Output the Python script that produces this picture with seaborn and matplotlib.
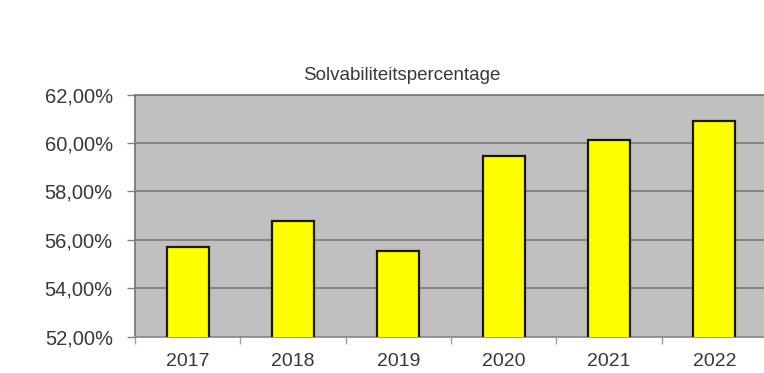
import matplotlib
matplotlib.use("Agg")
import matplotlib.pyplot as plt
from matplotlib.ticker import FuncFormatter, FixedLocator
import seaborn as sns
import pandas as pd

# Solvency ratio per year (percent)
years = ["2017", "2018", "2019", "2020", "2021", "2022"]
solvency = [55.72, 56.76, 55.55, 59.45, 60.14, 60.92]
y_ticks = [52, 54, 56, 58, 60, 62]
title = "Solvabiliteitspercentage"

df = pd.DataFrame({"jaar": years, "solvabiliteit": solvency})

sns.set_theme(style="white")
plt.rcParams["font.family"] = ["Liberation Sans", "DejaVu Sans"]

text_color = "#383838"
fig = plt.figure(figsize=(7.64, 3.73), dpi=100)
ax = fig.add_axes([135 / 764, 36.3 / 373, 632 / 764, 242.2 / 373])
ax.set_facecolor("#c0c0c0")

sns.barplot(data=df, x="jaar", y="solvabiliteit", ax=ax, color="#ffff00",
            saturation=1, width=0.4, edgecolor="#1a1a00", linewidth=1.6,
            zorder=3)

ax.set_ylim(52, 62)
ax.set_xlim(-0.5, len(years) - 0.5)
ax.yaxis.set_major_locator(FixedLocator(y_ticks))
ax.yaxis.set_major_formatter(
    FuncFormatter(lambda v, _: f"{v:.2f}".replace(".", ",") + "%"))
ax.grid(axis="y", color="#7a7a7a", linewidth=1.2, zorder=1)
ax.set_axisbelow(True)

# category boundaries get the tick marks, labels sit in the middle
ax.xaxis.set_minor_locator(FixedLocator([i + 0.5 for i in range(-1, len(years))]))
ax.tick_params(axis="x", which="major", length=0, pad=12,
               labelsize=14, labelcolor=text_color)
ax.tick_params(axis="x", which="minor", length=5, width=1, color="#a0a0a0",
               direction="out", bottom=True)
ax.tick_params(axis="y", which="major", length=6, width=1, color="#808080",
               direction="out", left=True, pad=10,
               labelsize=14.5, labelcolor=text_color)

ax.set_xlabel("")
ax.set_ylabel("")
for side in ["left", "top", "bottom"]:
    ax.spines[side].set_visible(True)
    ax.spines[side].set_color("#7a7a7a")
    ax.spines[side].set_linewidth(1.3)
ax.spines["right"].set_visible(False)
ax.spines["bottom"].set_color("#909090")

fig.text(402 / 764, 298 / 373, title, ha="center", va="center",
         fontsize=13.5, color=text_color)

fig.savefig("out.png", dpi=100, facecolor="white")
